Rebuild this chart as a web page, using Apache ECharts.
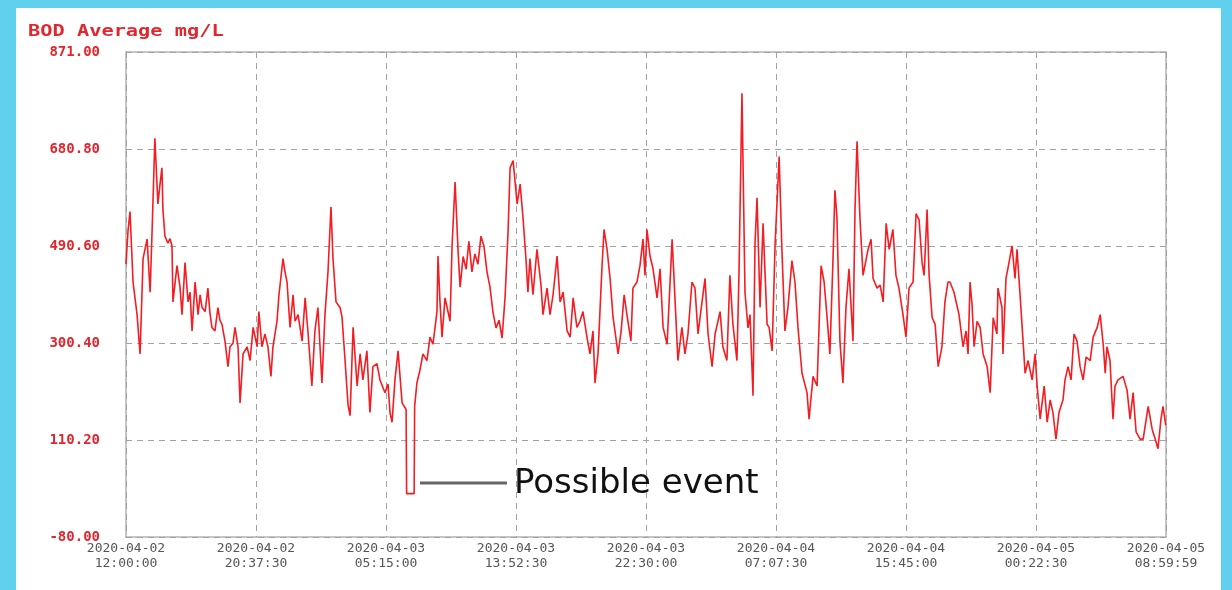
<!DOCTYPE html>
<html>
<head>
<meta charset="utf-8">
<title>BOD Average mg/L</title>
<script src="https://cdn.jsdelivr.net/npm/echarts@6/dist/echarts.min.js"></script>
<style>
  html, body { margin: 0; padding: 0; width: 1232px; height: 590px; background: #5fd0ee; overflow: hidden; }
  #chart { position: absolute; left: 16px; top: 8px; width: 1205px; height: 582px; background: #ffffff; }
</style>
</head>
<body>
<div id="chart"></div>
<script>
// Time axis: minutes elapsed since the first sample (2020-04-02 12:00:00)
const startUtc = Date.UTC(2020, 3, 2, 12, 0, 0);
const spanMinutes = 248399 / 60;   // last sample 2020-04-05 08:59:59
const tickMinutes = 517.5;         // 8 h 37 min 30 s between labels

// Value axis ticks
const yMin = -80;
const yMax = 871;
const yStep = 190.2;

// Sample times (minutes since start)
const minutes = [
  0,8,16,28,44,56,68,84,96,104,
  115,127,135,143,147,155,167,175,183,187,
  203,215,223,235,247,255,263,275,287,295,
  303,315,326,334,342,354,366,374,382,394,
  406,414,426,434,446,454,466,482,494,506,
  522,529,541,553,565,577,585,601,609,625,
  633,641,653,665,673,685,701,713,725,740,
  752,764,780,792,804,816,824,836,852,860,
  872,884,892,904,920,932,943,959,971,983,
  999,1011,1031,1043,1051,1059,1071,1083,1099,1115,
  1117,1147,1149,1158,1170,1182,1198,1210,1222,1238,
  1242,1250,1258,1270,1290,1298,1310,1322,1330,1342,
  1354,1365,1377,1389,1401,1413,1425,1437,1449,1461,
  1473,1485,1497,1509,1521,1529,1541,1557,1569,1581,
  1592,1600,1608,1620,1636,1652,1660,1676,1688,1700,
  1716,1728,1740,1756,1768,1780,1795,1807,1819,1835,
  1847,1859,1867,1879,1895,1903,1915,1927,1939,1959,
  1971,1983,1994,2010,2018,2034,2046,2058,2066,2074,
  2086,2098,2114,2126,2138,2154,2162,2174,2186,2197,
  2213,2225,2237,2253,2265,2277,2293,2305,2317,2333,
  2345,2365,2376,2392,2404,2416,2432,2440,2452,2464,
  2476,2484,2496,2504,2512,2524,2536,2552,2560,2572,
  2584,2600,2611,2623,2635,2651,2663,2675,2691,2711,
  2719,2735,2751,2767,2779,2790,2802,2814,2822,2830,
  2842,2854,2866,2878,2894,2902,2910,2922,2934,2954,
  2966,2974,2990,3002,3014,3026,3038,3053,3065,3077,
  3093,3105,3117,3133,3145,3157,3169,3177,3189,3197,
  3209,3221,3233,3248,3260,3272,3280,3296,3316,3332,
  3344,3352,3360,3368,3376,3388,3400,3412,3428,3440,
  3452,3467,3471,3487,3491,3503,3515,3527,3539,3547,
  3559,3571,3579,3591,3607,3619,3627,3639,3655,3667,
  3679,3690,3702,3714,3730,3738,3750,3762,3774,3786,
  3798,3810,3822,3838,3850,3866,3878,3890,3898,3905,
  3917,3929,3937,3949,3969,3985,3997,4009,4021,4037,
  4049,4069,4085,4097,4108,4120,4128,4139
];

// BOD average, mg/L
const bod = [
  455,520,558,420,356,279,466,504,400,523,
  702,573,610,644,562,510,496,505,491,381,
  452,410,356,458,381,400,324,420,356,395,
  370,362,408,360,331,324,370,345,337,304,
  254,293,300,331,293,183,279,293,266,331,
  293,362,293,318,293,235,293,343,395,466,
  440,420,331,395,343,356,304,389,318,216,
  324,370,222,356,439,567,466,381,370,351,
  266,178,158,331,216,279,228,285,164,254,
  260,228,203,220,164,145,230,285,183,170,
  5,5,176,222,247,279,266,312,298,362,
  471,380,312,389,343,491,616,480,410,470,
  445,500,440,475,455,510,490,440,410,360,
  330,345,310,390,520,644,658,573,612,542,
  466,400,466,395,484,414,356,408,356,395,
  471,381,400,324,312,389,331,343,362,312,
  279,324,222,279,452,523,484,427,350,279,
  324,395,356,304,408,420,452,504,433,523,
  471,446,389,446,331,298,381,504,381,266,
  331,279,318,420,408,318,381,427,318,254,
  318,362,293,266,433,337,266,433,790,400,
  330,356,197,496,585,370,535,337,331,285,
  496,666,484,324,370,462,420,331,241,203,
  151,235,216,452,420,356,279,458,600,548,
  304,222,370,446,304,562,696,542,433,484,
  504,427,408,414,381,535,484,523,433,408,
  356,312,408,420,554,542,458,433,562,433,
  350,337,254,293,381,420,420,400,356,293,
  324,279,420,375,293,343,331,279,254,203,
  350,318,408,370,279,427,458,491,427,484,
  395,304,241,266,228,279,216,151,216,145,
  189,164,112,164,189,228,254,228,318,304,
  254,228,273,266,312,331,356,298,241,293,
  266,151,216,228,235,208,151,203,126,112,
  112,176,131,112,93,151,176,139
];

const titleText = 'BOD Average mg/L';
const eventText = 'Possible event';

const pad = n => String(n).padStart(2, '0');
function stamp(min) {
  const d = new Date(startUtc + Math.round(min * 60) * 1000);
  return d.getUTCFullYear() + '-' + pad(d.getUTCMonth() + 1) + '-' + pad(d.getUTCDate()) +
    '\n' + pad(d.getUTCHours()) + ':' + pad(d.getUTCMinutes()) + ':' + pad(d.getUTCSeconds());
}

const series = minutes.map((m, i) => [m, bod[i]]);

const chart = echarts.init(document.getElementById('chart'), null, { renderer: 'canvas' });

const gridDash = { color: '#a2a2a2', width: 1, type: [6, 5] };

chart.setOption({
  animation: false,
  backgroundColor: '#ffffff',
  grid: {
    left: 110, top: 44, right: 55, bottom: 53,
    show: true, borderColor: '#c6c6c6', borderWidth: 2, backgroundColor: 'transparent'
  },
  xAxis: {
    type: 'value',
    min: 0, max: spanMinutes, interval: tickMinutes,
    axisLine: { show: false },
    axisTick: { show: false },
    splitLine: { show: true, lineStyle: gridDash },
    axisLabel: {
      formatter: v => stamp(v),
      color: '#555555',
      fontFamily: 'DejaVu Sans Mono',
      fontSize: 13,
      lineHeight: 15,
      margin: 4,
      showMinLabel: true, showMaxLabel: true
    }
  },
  yAxis: {
    type: 'value',
    min: yMin, max: yMax, interval: yStep,
    axisLine: { show: false },
    axisTick: { show: false },
    splitLine: { show: true, lineStyle: gridDash },
    axisLabel: {
      formatter: v => v.toFixed(2),
      color: '#e2262e',
      fontFamily: 'DejaVu Sans Mono',
      fontWeight: 'bold',
      fontSize: 14,
      margin: 26
    }
  },
  series: [{
    type: 'line',
    data: series,
    showSymbol: false,
    lineStyle: { color: '#f51c22', width: 1.6 },
    z: 3
  }],
  graphic: [
    {
      type: 'text', left: 12, top: 16, scaleX: 1.27,
      style: {
        text: titleText, fill: '#e2262e',
        font: 'bold 16px "DejaVu Sans Mono"'
      }
    },
    {
      type: 'line', z: 10,
      shape: { x1: 404, y1: 475, x2: 491, y2: 475 },
      style: { stroke: '#666666', lineWidth: 3 }
    },
    {
      type: 'text', z: 10, x: 498, y: 476,
      style: {
        text: eventText, fill: '#111111',
        font: '34px "DejaVu Sans"', verticalAlign: 'middle', align: 'left'
      }
    }
  ]
});
</script>
</body>
</html>
